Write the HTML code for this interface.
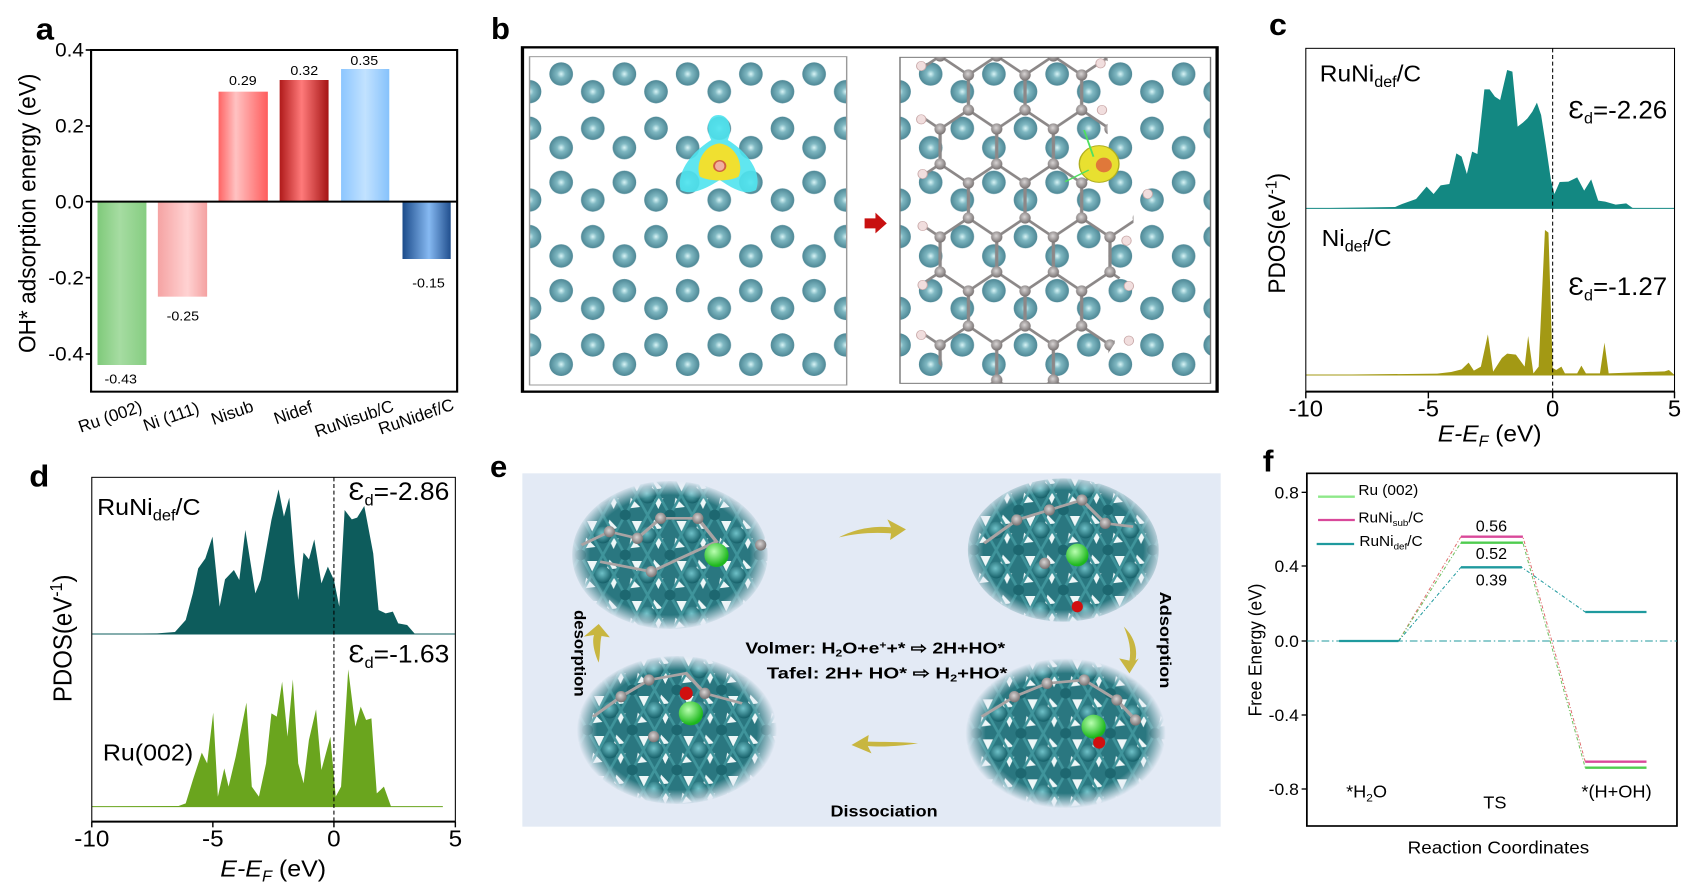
<!DOCTYPE html>
<html><head><meta charset="utf-8"><style>
html,body{margin:0;padding:0;background:#fff;}
svg{display:block;font-family:"Liberation Sans",Arial,sans-serif;}
</style></head><body>
<svg width="1699" height="892" viewBox="0 0 1699 892" xmlns="http://www.w3.org/2000/svg">
<defs>
 <linearGradient id="gGreen" x1="0" x2="1" y1="0" y2="0"><stop offset="0" stop-color="#7fca7a"/><stop offset="0.45" stop-color="#a6dca2"/><stop offset="1" stop-color="#86cd81"/></linearGradient>
 <linearGradient id="gPink" x1="0" x2="1"><stop offset="0" stop-color="#f5a3a3"/><stop offset="0.6" stop-color="#ffd2d2"/><stop offset="1" stop-color="#f4a1a1"/></linearGradient>
 <linearGradient id="gRed" x1="0" x2="1"><stop offset="0" stop-color="#ff6464"/><stop offset="0.35" stop-color="#ffc2c2"/><stop offset="1" stop-color="#ff5c5c"/></linearGradient>
 <linearGradient id="gDRed" x1="0" x2="1"><stop offset="0" stop-color="#b01a1a"/><stop offset="0.45" stop-color="#ff7a7a"/><stop offset="1" stop-color="#a51515"/></linearGradient>
 <linearGradient id="gLBlue" x1="0" x2="1"><stop offset="0" stop-color="#8cc6ff"/><stop offset="0.5" stop-color="#c2e2ff"/><stop offset="1" stop-color="#86c2fb"/></linearGradient>
 <linearGradient id="gDBlue" x1="0" x2="1"><stop offset="0" stop-color="#1b4b8a"/><stop offset="0.55" stop-color="#86b9f2"/><stop offset="1" stop-color="#214f8e"/></linearGradient>
 <radialGradient id="atom" cx="0.5" cy="0.5" r="0.5"><stop offset="0" stop-color="#d8f4f6"/><stop offset="0.35" stop-color="#7fb8c2"/><stop offset="1" stop-color="#4d8795"/></radialGradient>
 <radialGradient id="gray" cx="0.45" cy="0.4" r="0.6"><stop offset="0" stop-color="#d8d4d4"/><stop offset="1" stop-color="#767070"/></radialGradient>
 <radialGradient id="eAtom" cx="0.45" cy="0.4" r="0.6"><stop offset="0" stop-color="#6fc1c8"/><stop offset="1" stop-color="#155f68"/></radialGradient>
 <radialGradient id="greenBall" cx="0.4" cy="0.35" r="0.6"><stop offset="0" stop-color="#b9ffb0"/><stop offset="1" stop-color="#1eb81e"/></radialGradient>
 <radialGradient id="softg" cx="0.5" cy="0.5" r="0.5"><stop offset="0.8" stop-color="#fff"/><stop offset="1" stop-color="#000"/></radialGradient>
 <mask id="soft" maskUnits="userSpaceOnUse" x="-240" y="-240" width="480" height="480"><ellipse cx="0" cy="0" rx="215" ry="225" fill="url(#softg)"/></mask>
 <pattern id="latL" patternUnits="userSpaceOnUse" x="105" y="0" width="134" height="325">
  <g fill="url(#atom)">
  <ellipse cx="67" cy="28" rx="25" ry="35"/><ellipse cx="67" cy="353" rx="25" ry="35"/><ellipse cx="67" cy="132" rx="25" ry="35"/>
  <ellipse cx="0" cy="185" rx="25" ry="35"/><ellipse cx="0" cy="295" rx="25" ry="35"/><ellipse cx="0" cy="-30" rx="25" ry="35"/>
  <ellipse cx="134" cy="185" rx="25" ry="35"/><ellipse cx="134" cy="295" rx="25" ry="35"/><ellipse cx="134" cy="-30" rx="25" ry="35"/>
  </g>
 </pattern>
 <pattern id="latR" patternUnits="userSpaceOnUse" x="888" y="0" width="134" height="325">
  <g fill="url(#atom)">
  <ellipse cx="67" cy="28" rx="25" ry="35"/><ellipse cx="67" cy="353" rx="25" ry="35"/><ellipse cx="67" cy="132" rx="25" ry="35"/>
  <ellipse cx="0" cy="185" rx="25" ry="35"/><ellipse cx="0" cy="295" rx="25" ry="35"/><ellipse cx="0" cy="-30" rx="25" ry="35"/>
  <ellipse cx="134" cy="185" rx="25" ry="35"/><ellipse cx="134" cy="295" rx="25" ry="35"/><ellipse cx="134" cy="-30" rx="25" ry="35"/>
  </g>
 </pattern>
 <pattern id="hexP" patternUnits="userSpaceOnUse" x="975" y="78" width="120" height="324">
  <g stroke="#8c8888" stroke-width="7">
   <line x1="0" y1="0" x2="60" y2="57"/><line x1="60" y1="57" x2="120" y2="0"/>
   <line x1="60" y1="57" x2="60" y2="162"/><line x1="60" y1="162" x2="0" y2="219"/>
   <line x1="60" y1="162" x2="120" y2="219"/><line x1="0" y1="219" x2="0" y2="324"/>
   <line x1="120" y1="219" x2="120" y2="324"/>
  </g>
  <g fill="url(#gray)">
   <ellipse cx="0" cy="0" rx="12" ry="17"/><ellipse cx="120" cy="0" rx="12" ry="17"/><ellipse cx="60" cy="57" rx="12" ry="17"/>
   <ellipse cx="60" cy="162" rx="12" ry="17"/><ellipse cx="0" cy="219" rx="12" ry="17"/><ellipse cx="120" cy="219" rx="12" ry="17"/>
   <ellipse cx="0" cy="324" rx="12" ry="17"/><ellipse cx="120" cy="324" rx="12" ry="17"/>
  </g>
 </pattern>
 <clipPath id="grClip"><polygon points="945,82 1330,82 1330,480 1385,520 1385,700 1345,760 1345,940 1290,1060 1010,1060 945,960"/></clipPath>
 <pattern id="eLat" patternUnits="userSpaceOnUse" x="0" y="0" width="96" height="120">
  <rect width="96" height="120" fill="#2a7780"/>
  <g fill="#eef7f8">
   <polygon points="14,18 36,18 25,50"/><polygon points="60,70 82,70 71,102"/>
   <polygon points="62,14 80,40 56,44"/><polygon points="12,68 32,96 8,100"/>
  </g>
  <g stroke="#3f949b" stroke-width="6">
   <line x1="0" y1="0" x2="48" y2="120"/><line x1="48" y1="0" x2="96" y2="120"/><line x1="96" y1="0" x2="48" y2="120"/><line x1="48" y1="0" x2="0" y2="120"/>
  </g>
  <ellipse cx="48" cy="60" rx="18" ry="25" fill="url(#eAtom)"/>
  <ellipse cx="0" cy="0" rx="12" ry="16" fill="#1d6770"/><ellipse cx="96" cy="0" rx="12" ry="16" fill="#1d6770"/><ellipse cx="0" cy="120" rx="12" ry="16" fill="#1d6770"/><ellipse cx="96" cy="120" rx="12" ry="16" fill="#1d6770"/>
 </pattern>
</defs>

<!-- ================= Panel a ================= -->
<g transform="scale(0.35714,0.33333)">
 <text x="100" y="118" font-size="92" font-weight="bold">a</text>
 <rect x="273" y="605" width="137" height="490" fill="url(#gGreen)"/>
 <rect x="442" y="605" width="138" height="285" fill="url(#gPink)"/>
 <rect x="612" y="275" width="138" height="330" fill="url(#gRed)"/>
 <rect x="783" y="240" width="137" height="365" fill="url(#gDRed)"/>
 <rect x="955" y="207" width="135" height="398" fill="url(#gLBlue)"/>
 <rect x="1127" y="605" width="135" height="172" fill="url(#gDBlue)"/>
 <rect x="255" y="150" width="1025" height="1025" fill="none" stroke="#000" stroke-width="6"/>
 <line x1="255" y1="605" x2="1280" y2="605" stroke="#000" stroke-width="6"/>
 <g stroke="#000" stroke-width="5">
  <line x1="240" y1="150" x2="255" y2="150"/><line x1="240" y1="378" x2="255" y2="378"/><line x1="240" y1="605" x2="255" y2="605"/>
  <line x1="240" y1="833" x2="255" y2="833"/><line x1="240" y1="1062" x2="255" y2="1062"/>
 </g>
 <g font-size="58" text-anchor="end">
  <text x="235" y="170">0.4</text><text x="235" y="398">0.2</text><text x="235" y="625">0.0</text>
  <text x="235" y="853">-0.2</text><text x="235" y="1082">-0.4</text>
 </g>
 <text transform="translate(100,640) rotate(-90)" font-size="68" text-anchor="middle">OH* adsorption energy (eV)</text>
 <g font-size="40" text-anchor="middle">
  <text x="338" y="1150">-0.43</text><text x="512" y="962">-0.25</text><text x="680" y="255">0.29</text>
  <text x="852" y="225">0.32</text><text x="1020" y="195">0.35</text><text x="1200" y="862">-0.15</text>
 </g>
</g>
<g font-size="17" text-anchor="middle">
 <text transform="translate(112,422) rotate(-19)">Ru (002)</text>
 <text transform="translate(173,422) rotate(-19)">Ni (111)</text>
 <text transform="translate(234,418) rotate(-19)">Nisub</text>
 <text transform="translate(295,418) rotate(-19)">Nidef</text>
 <text transform="translate(356,424) rotate(-19)">RuNisub/C</text>
 <text transform="translate(418,422) rotate(-19)">RuNidef/C</text>
</g>

<!-- ================= Panel b ================= -->
<text x="491" y="39" font-size="31" font-weight="bold">b</text>
<g transform="translate(480,30) scale(0.4719,0.33333)">
 <rect x="90" y="52" width="1472" height="1033" fill="#fff" stroke="#000" stroke-width="7"/>
 <rect x="105" y="80" width="672" height="985" fill="url(#latL)" stroke="#999" stroke-width="3"/>
 <path d="M505,255 C530,255 535,300 525,330 C560,360 600,420 585,480 C560,500 530,470 508,450 C485,470 450,500 425,480 C415,420 455,360 490,330 C478,300 482,255 505,255 Z" fill="#4fe3ee" opacity="0.9"/>
 <path d="M507,340 C540,345 560,400 548,440 C530,455 485,455 466,440 C455,400 475,345 507,340 Z" fill="#f0e030"/>
 <ellipse cx="508" cy="408" rx="12" ry="16" fill="#f0b0a0" stroke="#d06040" stroke-width="4"/>
 <polygon points="815,565 838,565 838,548 862,580 838,610 838,595 815,595" fill="#c81010"/>
 <rect x="890" y="82" width="658" height="978" fill="url(#latR)" stroke="#777" stroke-width="3"/>
 <rect x="890" y="82" width="658" height="978" fill="url(#hexP)" clip-path="url(#grClip)"/>
 <g fill="#f1dede" stroke="#c9a9a9" stroke-width="2">
  <ellipse cx="935" cy="108" rx="10" ry="14"/><ellipse cx="935" cy="268" rx="10" ry="14"/><ellipse cx="938" cy="432" rx="10" ry="14"/><ellipse cx="938" cy="588" rx="10" ry="14"/>
  <ellipse cx="938" cy="765" rx="10" ry="14"/><ellipse cx="935" cy="915" rx="10" ry="14"/><ellipse cx="1315" cy="100" rx="10" ry="14"/><ellipse cx="1318" cy="240" rx="10" ry="14"/>
  <ellipse cx="1415" cy="492" rx="10" ry="14"/><ellipse cx="1370" cy="632" rx="10" ry="14"/><ellipse cx="1375" cy="768" rx="10" ry="14"/><ellipse cx="1375" cy="932" rx="10" ry="14"/>
 </g>
 <ellipse cx="1312" cy="402" rx="42" ry="55" fill="#e8e030" stroke="#b0b020" stroke-width="3"/>
 <ellipse cx="1322" cy="405" rx="17" ry="22" fill="#e0783a"/>
 <line x1="1280" y1="300" x2="1300" y2="380" stroke="#4fe060" stroke-width="4"/>
 <line x1="1240" y1="455" x2="1290" y2="420" stroke="#4fe060" stroke-width="4"/>
</g>

<!-- ================= Panel c ================= -->
<g transform="translate(1150,0) scale(0.35014,0.33333)">
 <text x="340" y="105" font-size="92" font-weight="bold">c</text>
 <path d="M445,625 L700,621 L720,612 L760,597 L790,560 L810,582 L830,556 L855,552 L875,460 L890,470 L905,522 L920,455 L935,462 L955,268 L970,268 L985,290 L1000,300 L1020,210 L1035,215 L1050,380 L1065,368 L1078,355 L1092,335 L1105,308 L1117,345 L1130,432 L1145,540 L1155,582 L1170,546 L1195,545 L1220,532 L1240,572 L1260,538 L1280,602 L1300,605 L1330,614 L1360,610 L1380,625 Z" fill="#138882"/>
 <line x1="445" y1="625" x2="1498" y2="625" stroke="#138882" stroke-width="3"/>
 <path d="M445,1125 L820,1121 L860,1116 L890,1108 L910,1088 L925,1112 L945,1100 L965,1003 L980,1115 L1005,1074 L1020,1061 L1045,1064 L1070,1100 L1080,1008 L1095,1120 L1110,1100 L1128,690 L1138,698 L1150,1104 L1160,1110 L1175,1100 L1185,1120 L1220,1120 L1232,1097 L1245,1120 L1285,1120 L1298,1028 L1310,1120 L1470,1114 L1482,1110 L1498,1125 Z" fill="#a39914"/>
 <line x1="445" y1="1125" x2="1498" y2="1125" stroke="#a39914" stroke-width="3"/>
 <rect x="445" y="145" width="1053" height="1030" fill="none" stroke="#000" stroke-width="3"/>
 <line x1="445" y1="1175" x2="1498" y2="1175" stroke="#000" stroke-width="6"/>
 <line x1="1150" y1="145" x2="1150" y2="1175" stroke="#000" stroke-width="3" stroke-dasharray="12,8"/>
 <g stroke="#000" stroke-width="4"><line x1="445" y1="1175" x2="445" y2="1195"/><line x1="795" y1="1175" x2="795" y2="1195"/><line x1="1150" y1="1175" x2="1150" y2="1195"/><line x1="1498" y1="1175" x2="1498" y2="1195"/></g>
 <g font-size="68" text-anchor="middle"><text x="445" y="1250">-10</text><text x="795" y="1250">-5</text><text x="1150" y="1250">0</text><text x="1498" y="1250">5</text></g>
 <text x="970" y="1325" font-size="70" text-anchor="middle"><tspan font-style="italic">E-E</tspan><tspan font-style="italic" font-size="46" dy="14">F</tspan><tspan dy="-14"> (eV)</tspan></text>
 <text transform="translate(385,700) rotate(-90)" font-size="68" text-anchor="middle">PDOS(eV<tspan font-size="46" dy="-24">-1</tspan><tspan dy="24">)</tspan></text>
 <text x="485" y="245" font-size="70">RuNi<tspan font-size="46" dy="16">def</tspan><tspan dy="-16">/C</tspan></text>
 <text x="1195" y="355" font-size="74">Ɛ<tspan font-size="46" dy="16">d</tspan><tspan dy="-16">=-2.26</tspan></text>
 <text x="490" y="738" font-size="70">Ni<tspan font-size="46" dy="16">def</tspan><tspan dy="-16">/C</tspan></text>
 <text x="1195" y="885" font-size="74">Ɛ<tspan font-size="46" dy="16">d</tspan><tspan dy="-16">=-1.27</tspan></text>
</g>

<!-- ================= Panel d ================= -->
<g transform="translate(0,420) scale(0.35714,0.33333)">
 <text x="82" y="200" font-size="92" font-weight="bold">d</text>
 <path d="M257,642 L440,640 L490,636 L520,600 L540,520 L555,445 L575,415 L595,350 L615,560 L630,478 L655,450 L670,480 L687,330 L715,520 L730,480 L760,300 L780,208 L795,290 L810,233 L825,430 L835,540 L850,398 L865,418 L880,358 L900,490 L918,440 L935,480 L950,560 L965,270 L985,298 L1000,293 L1020,258 L1045,400 L1060,570 L1080,580 L1100,575 L1115,610 L1140,615 L1162,642 Z" fill="#0d5c5c"/>
 <line x1="257" y1="642" x2="1275" y2="642" stroke="#0d5c5c" stroke-width="3"/>
 <path d="M257,1160 L500,1158 L520,1150 L540,1080 L565,998 L580,1030 L597,878 L610,1130 L628,1045 L640,1100 L660,1010 L690,848 L705,1100 L725,1130 L745,1030 L760,880 L775,890 L790,785 L805,950 L820,778 L835,1030 L850,1090 L865,960 L885,868 L900,1050 L925,950 L940,1130 L955,1100 L975,748 L995,920 L1010,860 L1025,900 L1040,895 L1055,1120 L1075,1100 L1095,1160 Z" fill="#6aa51e"/>
 <line x1="257" y1="1160" x2="1240" y2="1160" stroke="#6aa51e" stroke-width="3"/>
 <rect x="257" y="172" width="1018" height="1033" fill="none" stroke="#000" stroke-width="3"/>
 <line x1="257" y1="1205" x2="1275" y2="1205" stroke="#000" stroke-width="6"/>
 <line x1="935" y1="172" x2="935" y2="1205" stroke="#000" stroke-width="3" stroke-dasharray="12,8"/>
 <g stroke="#000" stroke-width="4"><line x1="257" y1="1205" x2="257" y2="1222"/><line x1="596" y1="1205" x2="596" y2="1222"/><line x1="935" y1="1205" x2="935" y2="1222"/><line x1="1275" y1="1205" x2="1275" y2="1222"/></g>
 <g font-size="68" text-anchor="middle"><text x="257" y="1280">-10</text><text x="596" y="1280">-5</text><text x="935" y="1280">0</text><text x="1275" y="1280">5</text></g>
 <text x="765" y="1370" font-size="70" text-anchor="middle"><tspan font-style="italic">E-E</tspan><tspan font-style="italic" font-size="46" dy="14">F</tspan><tspan dy="-14"> (eV)</tspan></text>
 <text transform="translate(200,655) rotate(-90)" font-size="72" text-anchor="middle">PDOS(eV<tspan font-size="48" dy="-26">-1</tspan><tspan dy="26">)</tspan></text>
 <text x="272" y="285" font-size="70">RuNi<tspan font-size="46" dy="16">def</tspan><tspan dy="-16">/C</tspan></text>
 <text x="1258" y="240" font-size="74" text-anchor="end">Ɛ<tspan font-size="46" dy="16">d</tspan><tspan dy="-16">=-2.86</tspan></text>
 <text x="1258" y="728" font-size="74" text-anchor="end">Ɛ<tspan font-size="46" dy="16">d</tspan><tspan dy="-16">=-1.63</tspan></text>
 <text x="288" y="1022" font-size="70">Ru(002)</text>
</g>

<!-- ================= Panel e ================= -->
<text x="490" y="477" font-size="31" font-weight="bold">e</text>
<g transform="translate(500,440) scale(0.46555,0.33333)">
 <rect x="48" y="100" width="1500" height="1060" fill="#e3eaf5"/>
 <g transform="translate(365,345)">
  <g mask="url(#soft)"><ellipse rx="210" ry="222" fill="url(#eLat)"/></g>
  <polyline points="-190,-30 -130,-70 -70,-50 -20,-110 60,-110 100,-40 -40,50 -150,20" fill="none" stroke="#a9a3a3" stroke-width="8"/>
  <g fill="url(#gray)"><ellipse cx="-130" cy="-70" rx="12" ry="17"/><ellipse cx="-70" cy="-50" rx="12" ry="17"/><ellipse cx="-20" cy="-110" rx="12" ry="17"/><ellipse cx="60" cy="-110" rx="12" ry="17"/><ellipse cx="-40" cy="50" rx="12" ry="17"/><ellipse cx="195" cy="-30" rx="12" ry="17"/></g>
  <ellipse cx="100" cy="0" rx="26" ry="36" fill="url(#greenBall)"/>
 </g>
 <g transform="translate(1210,330)">
  <g mask="url(#soft)"><ellipse rx="205" ry="215" fill="url(#eLat)"/></g>
  <polyline points="-170,-20 -100,-90 -30,-120 40,-150 90,-80 150,-70" fill="none" stroke="#a9a3a3" stroke-width="8"/>
  <g fill="url(#gray)"><ellipse cx="-100" cy="-90" rx="12" ry="17"/><ellipse cx="-30" cy="-120" rx="12" ry="17"/><ellipse cx="40" cy="-150" rx="12" ry="17"/><ellipse cx="90" cy="-80" rx="12" ry="17"/><ellipse cx="-40" cy="40" rx="12" ry="17"/></g>
  <ellipse cx="30" cy="15" rx="24" ry="34" fill="url(#greenBall)"/>
  <ellipse cx="30" cy="170" rx="12" ry="17" fill="#d01010"/>
 </g>
 <g transform="translate(380,870)">
  <g mask="url(#soft)"><ellipse rx="215" ry="222" fill="url(#eLat)"/></g>
  <polyline points="-180,-40 -120,-100 -60,-150 20,-170 60,-110 140,-80" fill="none" stroke="#a9a3a3" stroke-width="8"/>
  <g fill="url(#gray)"><ellipse cx="-120" cy="-100" rx="12" ry="17"/><ellipse cx="-60" cy="-150" rx="12" ry="17"/><ellipse cx="60" cy="-110" rx="12" ry="17"/><ellipse cx="-50" cy="20" rx="12" ry="17"/></g>
  <ellipse cx="30" cy="-50" rx="26" ry="36" fill="url(#greenBall)"/>
  <ellipse cx="20" cy="-110" rx="14" ry="20" fill="#d01010"/>
 </g>
 <g transform="translate(1215,880)">
  <g mask="url(#soft)"><ellipse rx="215" ry="225" fill="url(#eLat)"/></g>
  <polyline points="-180,-50 -110,-110 -40,-150 40,-160 110,-100 150,-40" fill="none" stroke="#a9a3a3" stroke-width="8"/>
  <g fill="url(#gray)"><ellipse cx="-110" cy="-110" rx="12" ry="17"/><ellipse cx="-40" cy="-150" rx="12" ry="17"/><ellipse cx="40" cy="-160" rx="12" ry="17"/><ellipse cx="110" cy="-100" rx="12" ry="17"/><ellipse cx="150" cy="-40" rx="12" ry="17"/></g>
  <ellipse cx="60" cy="-20" rx="26" ry="36" fill="url(#greenBall)"/>
  <ellipse cx="72" cy="28" rx="13" ry="18" fill="#d01010"/>
 </g>
 <g fill="#c8b640">
  <path d="M728,292 C770,262 810,258 840,262 L832,238 L872,268 L838,300 L840,280 C800,276 765,280 728,292 Z"/>
  <path d="M1340,560 C1352,600 1356,630 1352,662 L1330,655 L1352,700 L1372,655 L1365,662 C1370,625 1362,590 1340,560 Z"/>
  <path d="M898,910 C860,918 820,922 790,918 L798,940 L755,915 L792,885 L790,905 C828,906 860,906 898,910 Z"/>
  <path d="M212,668 C200,630 198,600 202,585 L180,590 L212,552 L236,592 L218,588 C214,610 216,640 212,668 Z"/>
 </g>
 <g font-weight="bold" font-size="48">
  <text x="527" y="640" textLength="558" lengthAdjust="spacingAndGlyphs">Volmer:  H<tspan font-size="30" dy="10">2</tspan><tspan dy="-10">O+e</tspan><tspan font-size="30" dy="-14">+</tspan><tspan dy="14">+* ⇨ 2H+HO*</tspan></text>
  <text x="573" y="715" textLength="517" lengthAdjust="spacingAndGlyphs">Tafel:  2H+ HO* ⇨  H<tspan font-size="30" dy="10">2</tspan><tspan dy="-10">+HO*</tspan></text>
  <text x="710" y="1130" textLength="230" lengthAdjust="spacingAndGlyphs">Dissociation</text>
 </g>
 <g font-weight="bold" font-size="34">
  <text transform="translate(1418,455) rotate(90)" textLength="290" lengthAdjust="spacingAndGlyphs">Adsorption</text>
  <text transform="translate(160,510) rotate(90)" textLength="260" lengthAdjust="spacingAndGlyphs">desorption</text>
 </g>
</g>

<!-- ================= Panel f ================= -->
<g transform="translate(1150,430) scale(0.35014,0.33333)">
 <text x="322" y="125" font-size="92" font-weight="bold">f</text>
 <rect x="448" y="130" width="1057" height="1058" fill="none" stroke="#000" stroke-width="5"/>
 <g stroke="#000" stroke-width="4">
  <line x1="433" y1="187" x2="448" y2="187"/><line x1="433" y1="408" x2="448" y2="408"/><line x1="433" y1="633" x2="448" y2="633"/>
  <line x1="433" y1="855" x2="448" y2="855"/><line x1="433" y1="1077" x2="448" y2="1077"/>
 </g>
 <g font-size="50" text-anchor="end"><text x="425" y="205">0.8</text><text x="425" y="426">0.4</text><text x="425" y="651">0.0</text><text x="425" y="873">-0.4</text><text x="425" y="1095">-0.8</text></g>
 <text transform="translate(318,660) rotate(-90)" font-size="52" text-anchor="middle">Free Energy (eV)</text>
 <text x="995" y="1270" font-size="54" text-anchor="middle">Reaction Coordinates</text>
 <line x1="448" y1="633" x2="1505" y2="633" stroke="#1f9a9e" stroke-width="3" stroke-dasharray="22,8,4,8"/>
 <g stroke-width="3" stroke-dasharray="10,6,3,6" fill="none">
  <polyline points="710,633 888,320 1065,320 1243,995" stroke="#e07070"/>
  <polyline points="710,633 888,338 1065,338 1243,1013" stroke="#70c060"/>
  <polyline points="710,633 888,412 1062,412 1243,546" stroke="#1f9a9e"/>
 </g>
 <g stroke-width="7">
  <line x1="540" y1="633" x2="710" y2="633" stroke="#1f9a9e"/>
  <line x1="888" y1="320" x2="1065" y2="320" stroke="#d9489a"/>
  <line x1="888" y1="338" x2="1065" y2="338" stroke="#4fcc4f"/>
  <line x1="888" y1="412" x2="1062" y2="412" stroke="#1f9a9e"/>
  <line x1="1243" y1="546" x2="1418" y2="546" stroke="#1f9a9e"/>
  <line x1="1243" y1="995" x2="1418" y2="995" stroke="#d9489a"/>
  <line x1="1243" y1="1013" x2="1418" y2="1013" stroke="#4fcc4f"/>
  <line x1="480" y1="200" x2="585" y2="200" stroke="#8ee88a"/>
  <line x1="480" y1="270" x2="585" y2="270" stroke="#d9489a"/>
  <line x1="476" y1="342" x2="583" y2="342" stroke="#1f9a9e"/>
 </g>
 <g font-size="44">
  <text x="595" y="195">Ru (002)</text>
  <text x="595" y="278">RuNi<tspan font-size="28" dy="10">sub</tspan><tspan dy="-10">/C</tspan></text>
  <text x="598" y="348">RuNi<tspan font-size="28" dy="10">def</tspan><tspan dy="-10">/C</tspan></text>
 </g>
 <g font-size="46" text-anchor="middle"><text x="975" y="305">0.56</text><text x="975" y="387">0.52</text><text x="975" y="467">0.39</text></g>
 <g font-size="52">
  <text x="560" y="1102">*H<tspan font-size="34" dy="12">2</tspan><tspan dy="-12">O</tspan></text>
  <text x="985" y="1135" text-anchor="middle">TS</text>
  <text x="1232" y="1102">*(H+OH)</text>
 </g>
</g>
</svg>
</body></html>
